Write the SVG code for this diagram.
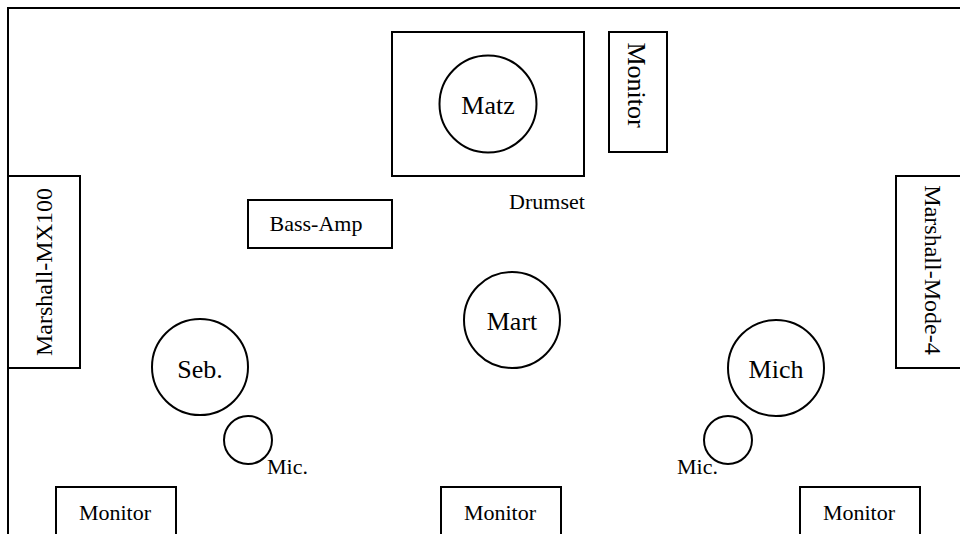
<svg xmlns="http://www.w3.org/2000/svg" width="960" height="534" viewBox="0 0 960 534" font-family="Liberation Serif" style="font-family:'Liberation Serif',serif">
<defs>
<style>
.s{fill:none;stroke:#000;stroke-width:2}
text{font-family:'Liberation Serif',serif;fill:#000}
</style>
</defs>
<rect width="960" height="534" fill="#fff"/>
<rect class="s" x="8" y="8" width="980" height="560"/>
<g id="drumset">
<rect class="s" x="392" y="32" width="192" height="144"/>
<text font-family="Liberation Serif" font-size="22" x="547" y="209" text-anchor="middle">Drumset</text>
</g>
<g id="matz"><circle class="s" cx="488" cy="104" r="48.5"/><text font-family="Liberation Serif" font-size="26" x="488" y="114" text-anchor="middle">Matz</text></g>
<g id="monitor-top"><rect class="s" x="609" y="32" width="58" height="120"/><text font-family="Liberation Serif" font-size="26" transform="translate(628,85) rotate(90)" text-anchor="middle">Monitor</text></g>
<g id="marshall-mx100"><rect class="s" x="8" y="176" width="72" height="192"/><text font-family="Liberation Serif" font-size="24" transform="translate(52,272) rotate(-90)" text-anchor="middle">Marshall-MX100</text></g>
<g id="bass-amp"><rect class="s" x="248" y="200" width="144" height="48"/><text font-family="Liberation Serif" font-size="22" x="316" y="231" text-anchor="middle">Bass-Amp</text></g>
<g id="marshall-mode4"><rect class="s" x="896" y="176" width="80" height="192"/><text font-family="Liberation Serif" font-size="24" transform="translate(925,270) rotate(90)" text-anchor="middle">Marshall-Mode-4</text></g>
<g id="mart"><circle class="s" cx="512" cy="320" r="48"/><text font-family="Liberation Serif" font-size="26" x="512" y="330" text-anchor="middle">Mart</text></g>
<g id="seb"><circle class="s" cx="200" cy="367" r="48"/><text font-family="Liberation Serif" font-size="26" x="200" y="378" text-anchor="middle">Seb.</text></g>
<g id="mich"><circle class="s" cx="776" cy="368" r="48"/><text font-family="Liberation Serif" font-size="26" x="776" y="378" text-anchor="middle">Mich</text></g>
<g id="mic-left"><circle class="s" cx="248" cy="440" r="24"/><text font-family="Liberation Serif" font-size="22" x="267" y="474">Mic.</text></g>
<g id="mic-right"><circle class="s" cx="728" cy="440" r="24"/><text font-family="Liberation Serif" font-size="22" x="718" y="474" text-anchor="end">Mic.</text></g>
<g id="monitor-left"><rect class="s" x="56" y="487" width="120" height="80"/><text font-family="Liberation Serif" font-size="22" x="115" y="520" text-anchor="middle">Monitor</text></g>
<g id="monitor-center"><rect class="s" x="441" y="487" width="120" height="80"/><text font-family="Liberation Serif" font-size="22" x="500" y="520" text-anchor="middle">Monitor</text></g>
<g id="monitor-right"><rect class="s" x="800" y="487" width="120" height="80"/><text font-family="Liberation Serif" font-size="22" x="859" y="520" text-anchor="middle">Monitor</text></g>
<g id="connectors"/>
</svg>
